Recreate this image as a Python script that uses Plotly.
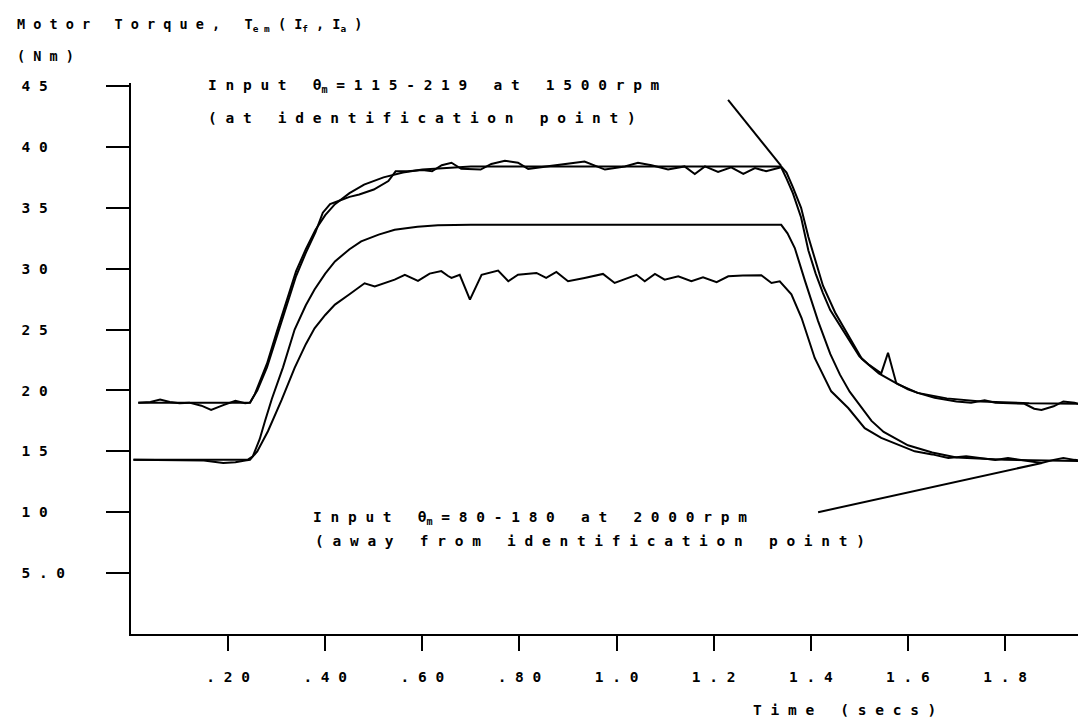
import plotly.graph_objects as go

# ---------------- data ----------------
# Upper pair: input theta_m = 115-219 at 1500 rpm (model + measured)
t_upper_model = [0.015, 0.245, 0.255, 0.265, 0.28, 0.30, 0.32, 0.34, 0.36, 0.38, 0.40, 0.42, 0.45,
                 0.48, 0.52, 0.56, 0.60, 0.65, 0.70, 1.339, 1.35, 1.363, 1.38, 1.395, 1.41, 1.425,
                 1.45, 1.477, 1.505, 1.54, 1.58, 1.62, 1.68, 1.75, 1.85, 1.977]
T_upper_model = [19.0, 19.0, 19.7, 20.7, 22.2, 24.8, 27.4, 29.8, 31.6, 33.2, 34.4, 35.3, 36.2,
                 36.9, 37.5, 37.9, 38.15, 38.3, 38.4, 38.4, 37.9, 36.7, 35.0, 32.6, 30.6, 28.6,
                 26.4, 24.5, 22.6, 21.4, 20.5, 19.8, 19.35, 19.1, 18.95, 18.9]

t_upper_meas = [0.015, 0.04, 0.06, 0.08, 0.10, 0.12, 0.145, 0.165, 0.19, 0.215, 0.235, 0.245, 0.26,
                0.28, 0.30, 0.32, 0.34, 0.36, 0.38, 0.395, 0.41, 0.43, 0.45, 0.47, 0.50, 0.53,
                0.545, 0.57, 0.60, 0.62, 0.64, 0.66, 0.68, 0.72, 0.742, 0.77, 0.797, 0.818, 0.859,
                0.90, 0.934, 0.976, 1.017, 1.044, 1.072, 1.106, 1.14, 1.161, 1.182, 1.209, 1.236,
                1.261, 1.285, 1.308, 1.339, 1.35, 1.363, 1.38, 1.395, 1.41, 1.425, 1.44, 1.46,
                1.48, 1.50, 1.52, 1.545, 1.559, 1.576, 1.60, 1.62, 1.655, 1.70, 1.73, 1.758,
                1.78, 1.806, 1.84, 1.86, 1.875, 1.90, 1.92, 1.943, 1.96, 1.977]
T_upper_meas = [19.0, 19.05, 19.25, 19.05, 18.95, 19.0, 18.75, 18.4, 18.8, 19.15, 18.95, 19.0, 20.0,
                21.9, 24.4, 27.0, 29.4, 31.3, 33.0, 34.6, 35.3, 35.6, 35.9, 36.1, 36.5, 37.2,
                38.0, 38.0, 38.1, 38.0, 38.5, 38.7, 38.2, 38.14, 38.6, 38.87, 38.7, 38.2, 38.4,
                38.6, 38.8, 38.14, 38.4, 38.7, 38.5, 38.14, 38.4, 37.78, 38.4, 37.95, 38.33,
                37.78, 38.27, 38.0, 38.33, 37.4, 36.2, 34.2, 31.5, 29.6, 28.0, 26.6, 25.3,
                24.0, 22.8, 22.1, 21.4, 23.1, 20.6, 20.1, 19.8, 19.4, 19.1, 19.0, 19.2,
                19.0, 18.97, 18.9, 18.5, 18.4, 18.7, 19.1, 19.0, 18.8, 18.85]

# Middle (model) and lower (measured): input theta_m = 80-180 at 2000 rpm
t_mid = [0.005, 0.24, 0.251, 0.265, 0.276, 0.29, 0.313, 0.337, 0.36, 0.378, 0.40, 0.42, 0.45,
         0.474, 0.51, 0.543, 0.59, 0.632, 0.70, 1.339, 1.352, 1.367, 1.388, 1.415, 1.44, 1.46,
         1.48, 1.50, 1.525, 1.55, 1.60, 1.65, 1.70, 1.80, 1.977]
T_mid = [14.3, 14.3, 14.6, 16.0, 17.5, 19.3, 21.9, 25.0, 27.0, 28.3, 29.6, 30.6, 31.6,
         32.25, 32.8, 33.2, 33.45, 33.57, 33.6, 33.6, 32.9, 31.7, 29.0, 25.7, 23.0, 21.3,
         19.9, 18.8, 17.5, 16.6, 15.5, 14.9, 14.5, 14.3, 14.2]

t_low = [0.005, 0.10, 0.15, 0.19, 0.215, 0.235, 0.245, 0.26, 0.282, 0.31, 0.337, 0.36, 0.378,
         0.40, 0.42, 0.45, 0.481, 0.502, 0.52, 0.543, 0.564, 0.591, 0.615, 0.639, 0.653, 0.66,
         0.677, 0.698, 0.722, 0.756, 0.777, 0.797, 0.835, 0.855, 0.876, 0.90, 0.934, 0.972,
         0.996, 1.041, 1.058, 1.079, 1.099, 1.127, 1.154, 1.178, 1.206, 1.23, 1.26, 1.298,
         1.319, 1.336, 1.36, 1.381, 1.408, 1.442, 1.477, 1.511, 1.545, 1.58, 1.614, 1.65,
         1.683, 1.72, 1.751, 1.78, 1.806, 1.83, 1.875, 1.90, 1.92, 1.943, 1.977]
T_low = [14.3, 14.3, 14.25, 14.05, 14.1, 14.25, 14.3, 15.0, 16.65, 19.2, 21.85, 23.8, 25.1,
         26.2, 27.05, 27.9, 28.8, 28.55, 28.8, 29.1, 29.5, 29.0, 29.6, 29.8, 29.4, 29.24,
         29.5, 27.46, 29.5, 29.84, 28.97, 29.5, 29.65, 29.24, 29.73, 28.97, 29.24, 29.57,
         28.83, 29.5, 28.97, 29.57, 29.1, 29.38, 28.97, 29.3, 28.9, 29.38, 29.45, 29.46,
         28.83, 28.97, 27.9, 25.95, 22.67, 19.93, 18.56, 16.9, 16.1, 15.55, 15.0, 14.75,
         14.46, 14.6, 14.46, 14.3, 14.45, 14.3, 14.05, 14.3, 14.45, 14.3, 14.2]

# Leader lines from the labels to the curves
t_leader_top = [1.2296, 1.3388]
T_leader_top = [43.86, 38.44]
t_leader_bottom = [1.415, 1.876]
T_leader_bottom = [10.0, 14.05]

# Axis ticks
x_tickvals = [0.2, 0.4, 0.6, 0.8, 1.0, 1.2, 1.4, 1.6, 1.8]
x_ticklabels = [".20", ".40", ".60", ".80", "1.0", "1.2", "1.4", "1.6", "1.8"]
y_tickvals = [5, 10, 15, 20, 25, 30, 35, 40, 45]
y_ticklabels = ["5.0", "10", "15", "20", "25", "30", "35", "40", "45"]

# ---------------- helpers ----------------
NB = "\u00a0"


def sp(s):
    """Letter-spaced text (plotter style)."""
    return NB.join(s.replace(" ", NB))


FONT = "DejaVu Sans Mono"

fig = go.Figure()
line_style = dict(color="black", width=2)
for tx, ty in [(t_upper_model, T_upper_model), (t_upper_meas, T_upper_meas),
               (t_mid, T_mid), (t_low, T_low),
               (t_leader_top, T_leader_top), (t_leader_bottom, T_leader_bottom)]:
    fig.add_trace(go.Scatter(x=tx, y=ty, mode="lines", line=line_style,
                             hoverinfo="skip", showlegend=False))

y_text = [(sp(lbl) + NB * 5)[:5] for lbl in y_ticklabels]
x_text = [sp(lbl) for lbl in x_ticklabels]

fig.update_layout(
    width=1086, height=718,
    margin=dict(l=123, r=3, t=75, b=92),
    plot_bgcolor="white", paper_bgcolor="white",
    showlegend=False,
    font=dict(family=FONT, color="black", size=14.5, weight="bold"),
    xaxis=dict(range=[0, 1.977], showline=True, linecolor="black", linewidth=2,
               ticks="outside", ticklen=15, tickwidth=2, tickcolor="black",
               tickvals=x_tickvals, ticktext=x_text, showgrid=False, zeroline=False,
               ticklabelstandoff=14, automargin=False,
               tickfont=dict(family=FONT, size=14.5, color="black", weight="bold")),
    yaxis=dict(range=[0, 45.25], showline=True, linecolor="black", linewidth=2,
               ticks="outside", ticklen=23, tickwidth=2, tickcolor="black",
               tickvals=y_tickvals, ticktext=y_text, showgrid=False, zeroline=False,
               ticklabelstandoff=38, automargin=False,
               tickfont=dict(family=FONT, size=14.5, color="black", weight="bold")),
)

title_txt = (sp("Motor Torque, T") + "<sub>" + sp("em") + "</sub>" + NB + sp("(I")
             + "<sub>f</sub>" + NB + sp(",I") + "<sub>a</sub>" + NB + ")")
top1 = sp("Input θ") + "<sub>m</sub>" + NB + sp("=115-219 at 1500rpm")
top2 = sp("(at identification point)")
bot1 = sp("Input θ") + "<sub>m</sub>" + NB + sp("=80-180 at 2000rpm")
bot2 = sp("(away from identification point)")
xtitle = sp("Time (secs)")


def px_x(px):
    return (px - 123) / 960.0


def px_y(py):
    return (626 - py) / 551.0


texts = [
    (title_txt, 7, 17, 13.5),
    (sp("(Nm)"), 7, 48, 13.5),
    (top1, 198, 78, 14.5),
    (top2, 198, 110, 14.5),
    (bot1, 303, 510, 14.5),
    (bot2, 305, 533, 14.5),
    (xtitle, 743, 702, 14.5),
]
for txt, px, py, size in texts:
    fig.add_annotation(text=txt, xref="paper", yref="paper", x=px_x(px), y=px_y(py),
                       xanchor="left", yanchor="middle", showarrow=False,
                       font=dict(family=FONT, size=size, color="black", weight="bold"))

fig.write_html("out.html")
